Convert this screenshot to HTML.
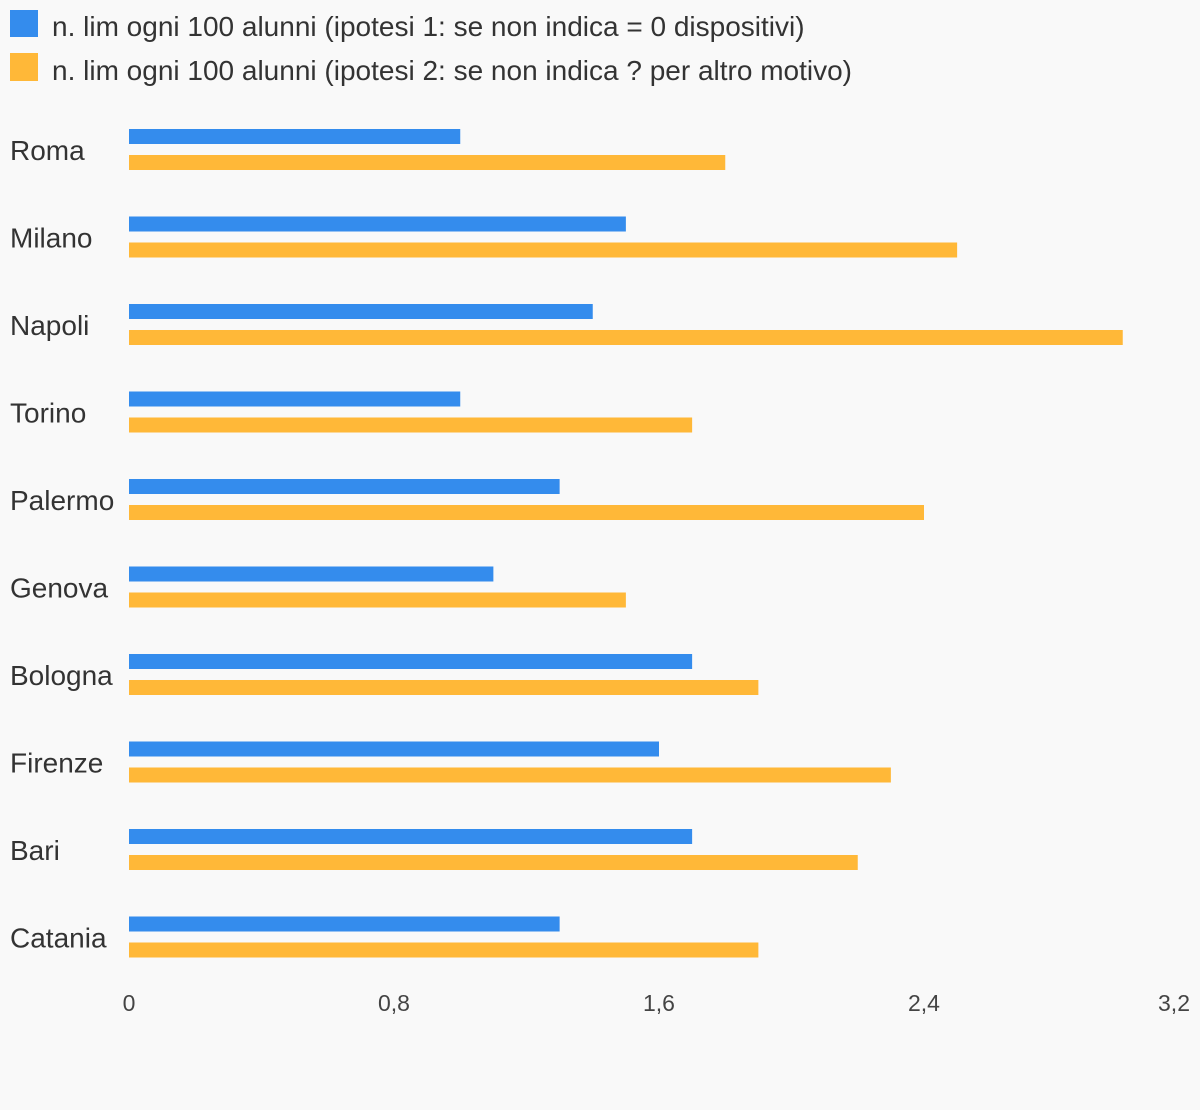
<!DOCTYPE html>
<html><head><meta charset="utf-8"><style>
html,body{margin:0;padding:0;background:#f9f9f9;width:1200px;height:1110px;overflow:hidden}
svg{display:block;font-family:"Liberation Sans",sans-serif}
</style></head><body>
<svg id="chart" width="1200" height="1110" viewBox="0 0 1200 1110">
<rect width="1200" height="1110" fill="#f9f9f9"/>
<g>
<rect x="10" y="10" width="28" height="27" fill="#348ced"/>
<text x="52" y="36" font-size="28" fill="#333">n. lim ogni 100 alunni (ipotesi 1: se non indica = 0 dispositivi)</text>
<rect x="10" y="53" width="28" height="28" fill="#ffb838"/>
<text x="52" y="80" font-size="28" fill="#333">n. lim ogni 100 alunni (ipotesi 2: se non indica ? per altro motivo)</text>
</g>
<g id="bars"></g>
<g id="axis"></g>
</svg>
<script>
const categories = ["Roma","Milano","Napoli","Torino","Palermo","Genova","Bologna","Firenze","Bari","Catania"];
const series1 = [1.0,1.5,1.4,1.0,1.3,1.1,1.7,1.6,1.7,1.3];
const series2 = [1.8,2.5,3.0,1.7,2.4,1.5,1.9,2.3,2.2,1.9];
const ticks = [0,0.8,1.6,2.4,3.2];
const tickLabels = ["0","0,8","1,6","2,4","3,2"];

const NS="http://www.w3.org/2000/svg";
const x0=129, pxPerUnit=265/0.8;
const xScale=v=>x0+v*pxPerUnit;
const rowY=i=>129+i*87.5;
const bars=document.getElementById('bars');
const axis=document.getElementById('axis');
function mk(tag,attrs){const e=document.createElementNS(NS,tag);for(const k in attrs)e.setAttribute(k,attrs[k]);return e;}
categories.forEach((c,i)=>{
  const y=rowY(i);
  const t=mk('text',{x:10,y:y+31,'font-size':28,fill:'#333'});
  
  
  t.textContent=c;bars.appendChild(t);
  const b1=mk('rect',{x:x0,y:y,width:xScale(series1[i])-x0,height:15,fill:'#348ced'});
  
  
  bars.appendChild(b1);
  const b2=mk('rect',{x:x0,y:y+26,width:xScale(series2[i])-x0,height:15,fill:'#ffb838'});
  
  
  bars.appendChild(b2);
});
ticks.forEach((v,i)=>{
  let x=xScale(v);
  let anchor='middle';
  if(x>1175){x=1190;anchor='end';}
  const t=mk('text',{x:x,y:1011,'font-size':23,fill:'#444','text-anchor':anchor});
  
  
  t.textContent=tickLabels[i];axis.appendChild(t);
});
</script>
</body></html>
